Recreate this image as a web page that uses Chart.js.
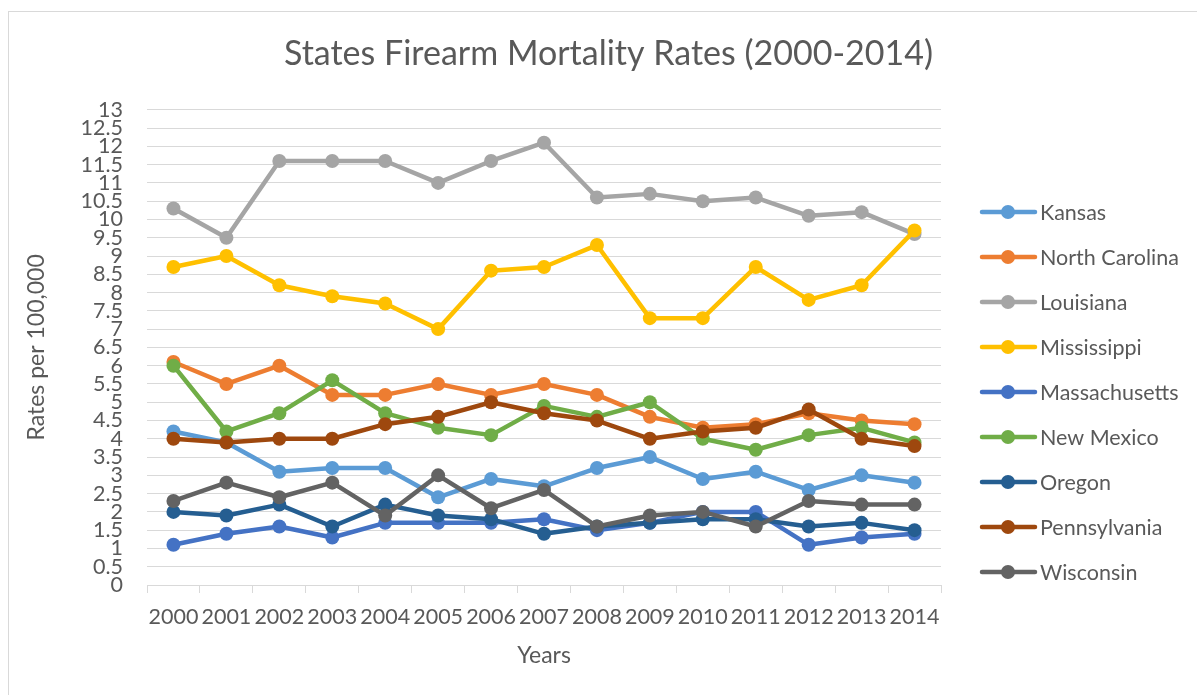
<!DOCTYPE html>
<html>
<head>
<meta charset="utf-8">
<script src="https://cdn.jsdelivr.net/npm/chart.js@4"></script>
<style>
  html, body { margin: 0; padding: 0; background: #ffffff; }
  #wrap { position: relative; width: 1197px; height: 695px; }
</style>
</head>
<body>
<div id="wrap"><canvas id="c" width="1197" height="695"></canvas></div>
<script>
const years = ['2000','2001','2002','2003','2004','2005','2006','2007','2008','2009','2010','2011','2012','2013','2014'];
const seriesNames = ['Kansas','North Carolina','Louisiana','Mississippi','Massachusetts','New Mexico','Oregon','Pennsylvania','Wisconsin'];
const kansas        = [4.2, 3.9, 3.1, 3.2, 3.2, 2.4, 2.9, 2.7, 3.2, 3.5, 2.9, 3.1, 2.6, 3.0, 2.8];
const northCarolina = [6.1, 5.5, 6.0, 5.2, 5.2, 5.5, 5.2, 5.5, 5.2, 4.6, 4.3, 4.4, 4.7, 4.5, 4.4];
const louisiana     = [10.3, 9.5, 11.6, 11.6, 11.6, 11.0, 11.6, 12.1, 10.6, 10.7, 10.5, 10.6, 10.1, 10.2, 9.6];
const mississippi   = [8.7, 9.0, 8.2, 7.9, 7.7, 7.0, 8.6, 8.7, 9.3, 7.3, 7.3, 8.7, 7.8, 8.2, 9.7];
const massachusetts = [1.1, 1.4, 1.6, 1.3, 1.7, 1.7, 1.7, 1.8, 1.5, 1.7, 2.0, 2.0, 1.1, 1.3, 1.4];
const newMexico     = [6.0, 4.2, 4.7, 5.6, 4.7, 4.3, 4.1, 4.9, 4.6, 5.0, 4.0, 3.7, 4.1, 4.3, 3.9];
const oregon        = [2.0, 1.9, 2.2, 1.6, 2.2, 1.9, 1.8, 1.4, 1.6, 1.7, 1.8, 1.8, 1.6, 1.7, 1.5];
const pennsylvania  = [4.0, 3.9, 4.0, 4.0, 4.4, 4.6, 5.0, 4.7, 4.5, 4.0, 4.2, 4.3, 4.8, 4.0, 3.8];
const wisconsin     = [2.3, 2.8, 2.4, 2.8, 1.9, 3.0, 2.1, 2.6, 1.6, 1.9, 2.0, 1.6, 2.3, 2.2, 2.2];
const yMin = 0, yMax = 13, yStep = 0.5;

const seriesValues = [kansas, northCarolina, louisiana, mississippi, massachusetts, newMexico, oregon, pennsylvania, wisconsin];
const colors = ['#5B9BD5','#ED7D31','#A5A5A5','#FFC000','#4472C4','#70AD47','#255E91','#9E480E','#636363'];

const TEXT = '#595959';
const FONT = 'Lato, "Open Sans", sans-serif';

const datasets = seriesValues.map((vals, i) => ({
  label: seriesNames[i],
  data: vals,
  borderColor: colors[i],
  backgroundColor: colors[i],
  pointBackgroundColor: colors[i],
  pointBorderColor: colors[i],
  borderWidth: 4.5,
  pointRadius: 7,
  pointBorderWidth: 0,
  pointHoverRadius: 7,
  tension: 0,
  borderJoinStyle: 'round',
  borderCapStyle: 'round',
  order: seriesValues.length - 1 - i
}));

const frame = {
  id: 'frame',
  beforeDraw(chart) {
    const ctx = chart.ctx;
    ctx.save();
    ctx.fillStyle = '#ffffff';
    ctx.fillRect(0, 0, chart.width, chart.height);
    ctx.strokeStyle = '#d9d9d9';
    ctx.lineWidth = 1;
    ctx.strokeRect(8.5, 11.5, 1200, 700);
    ctx.restore();
  }
};

const lineLegend = {
  id: 'lineLegend',
  afterDraw(chart) {
    const ctx = chart.ctx;
    ctx.save();
    chart.data.datasets.forEach((ds, i) => {
      const y = 212 + 45 * i;
      ctx.strokeStyle = ds.borderColor;
      ctx.lineWidth = 4.5;
      ctx.lineCap = 'round';
      ctx.beginPath();
      ctx.moveTo(982, y);
      ctx.lineTo(1035, y);
      ctx.stroke();
      ctx.fillStyle = ds.borderColor;
      ctx.beginPath();
      ctx.arc(1008, y, 7, 0, Math.PI * 2);
      ctx.fill();
      ctx.fillStyle = TEXT;
      ctx.font = '21.5px ' + FONT;
      ctx.textAlign = 'left';
      ctx.textBaseline = 'middle';
      ctx.fillText(ds.label, 1040, y + 1);
    });
    ctx.restore();
  }
};

new Chart(document.getElementById('c'), {
  type: 'line',
  data: { labels: years, datasets },
  plugins: [frame, lineLegend],
  options: {
    responsive: false,
    animation: false,
    devicePixelRatio: 1,
    layout: { padding: { left: 20, right: 0, top: 0, bottom: 0 } },
    plugins: {
      legend: { display: false },
      tooltip: { enabled: false },
      title: {
        display: true,
        text: 'States Firearm Mortality Rates (2000-2014)',
        color: TEXT,
        font: { family: FONT, size: 34, weight: 'normal' },
        padding: { top: 34, bottom: 35 }
      }
    },
    scales: {
      x: {
        offset: true,
        afterFit(scale) { scale.height = 110; },
        grid: {
          offset: true,
          drawOnChartArea: false,
          drawTicks: true,
          tickLength: 8,
          color: '#d9d9d9',
          lineWidth: 1
        },
        border: { display: true, color: '#d9d9d9', width: 1 },
        ticks: {
          color: TEXT,
          font: { family: FONT, size: 21.5 },
          padding: 11,
          maxRotation: 0,
          autoSkip: false
        },
        title: {
          display: true,
          text: 'Years',
          color: TEXT,
          font: { family: FONT, size: 23 },
          padding: { top: 0, bottom: 26 }
        }
      },
      y: {
        min: yMin,
        max: yMax,
        afterFit(scale) { scale.width = 127; },
        grid: {
          drawTicks: false,
          color: '#d9d9d9',
          lineWidth: 1
        },
        border: { display: false },
        ticks: {
          stepSize: yStep,
          color: TEXT,
          font: { family: FONT, size: 21.5 },
          padding: 24,
          autoSkip: false,
          callback: (v) => String(Number(v))
        },
        title: {
          display: true,
          text: 'Rates per 100,000',
          color: TEXT,
          font: { family: FONT, size: 23 },
          padding: { top: 3, bottom: 0 }
        }
      },
      legendSpace: {
        type: 'linear',
        position: 'right',
        display: true,
        afterFit(scale) { scale.width = 256; },
        grid: { display: false, drawTicks: false },
        border: { display: false },
        ticks: { display: false },
        title: { display: false }
      }
    }
  }
});
</script>
</body>
</html>
